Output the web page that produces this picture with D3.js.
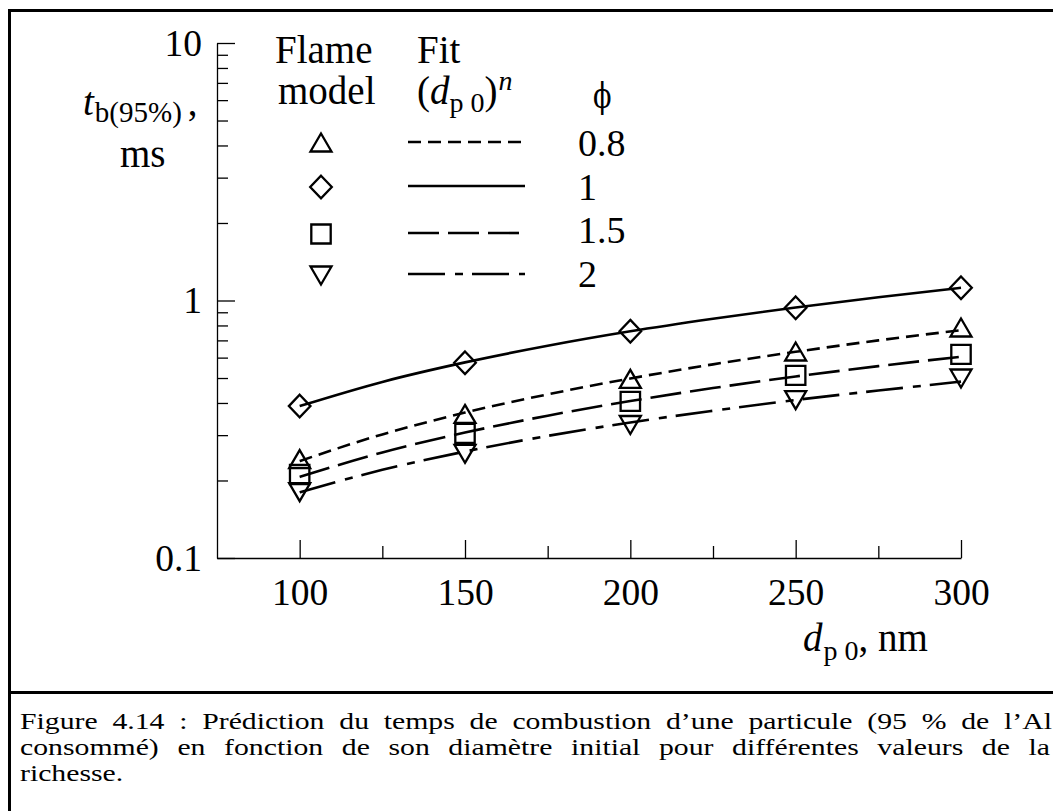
<!DOCTYPE html>
<html><head><meta charset="utf-8">
<script src="https://cdn.jsdelivr.net/npm/d3@7"></script>
<style>
body{margin:0;background:#fff;}
svg{display:block;}
text{font-family:"Liberation Serif","Times New Roman",serif;fill:#000;}
</style></head><body>
<svg id="chart" width="1053" height="811"></svg>
<script>
// ---------- data ----------
const diameters = [100, 150, 200, 250, 300];
const phiLabels = ["0.8", "1", "1.5", "2"];
const model08 = [0.241, 0.361, 0.494, 0.631, 0.782];
const model1  = [0.389, 0.573, 0.760, 0.937, 1.12];
const model15 = [0.211, 0.305, 0.406, 0.512, 0.618];
const model2  = [0.181, 0.255, 0.330, 0.412, 0.500];
const fitDiameters = [100, 125, 150, 175, 200, 225, 250, 275, 300];
const fit08 = [0.238, 0.302, 0.367, 0.432, 0.498, 0.565, 0.632, 0.700, 0.767];
const fit1  = [0.389, 0.483, 0.575, 0.667, 0.759, 0.849, 0.940, 1.030, 1.120];
const fit15 = [0.2065, 0.257, 0.307, 0.357, 0.407, 0.457, 0.507, 0.556, 0.605];
const fit2  = [0.180, 0.220, 0.259, 0.298, 0.336, 0.373, 0.411, 0.447, 0.484];
const xTicks = [100, 150, 200, 250, 300];
const xMinorTicks = [125, 175, 225, 275];
const yTicks = [0.1, 1, 10];
const yTickLabels = ["0.1", "1", "10"];
const yMinorTicks = [0.2, 0.3, 0.4, 0.5, 0.6, 0.7, 0.8, 0.9, 2, 3, 4, 5, 6, 7, 8, 9];
const captionLines = [
  "Figure 4.14 : Prédiction du temps de combustion d’une particule (95 % de l’Al",
  "consommé) en fonction de son diamètre initial pour différentes valeurs de la",
  "richesse."
];

// ---------- setup ----------
const svg = d3.select("#chart");
const x = d3.scaleLinear().domain([75, 300]).range([217, 961]);
const y = d3.scaleLog().domain([0.1, 10]).range([558, 43]);

// frame
svg.append("line").attr("x1", 8).attr("x2", 1053).attr("y1", 10.5).attr("y2", 10.5)
  .attr("stroke", "#000").attr("stroke-width", 3);
svg.append("line").attr("x1", 9.5).attr("x2", 9.5).attr("y1", 9).attr("y2", 811)
  .attr("stroke", "#000").attr("stroke-width", 3);
svg.append("line").attr("x1", 8).attr("x2", 1053).attr("y1", 692.5).attr("y2", 692.5)
  .attr("stroke", "#000").attr("stroke-width", 3);

// ---------- axes ----------
const axFont = 37.5;
const gx = svg.append("g").attr("transform", "translate(0,558)")
  .call(d3.axisBottom(x).tickValues(xTicks).tickSize(-18).tickSizeOuter(0).tickPadding(20).tickFormat(d3.format("d")));
const gxm = svg.append("g").attr("transform", "translate(0,558)")
  .call(d3.axisBottom(x).tickValues(xMinorTicks).tickSize(-12).tickSizeOuter(0).tickFormat(""));
gxm.select(".domain").remove();
const gy = svg.append("g").attr("transform", "translate(217,0)")
  .call(d3.axisLeft(y).tickValues(yTicks).tickSize(-18).tickSizeOuter(0).tickPadding(15)
    .tickFormat((d, i) => yTickLabels[i]));
const gym = svg.append("g").attr("transform", "translate(217,0)")
  .call(d3.axisLeft(y).tickValues(yMinorTicks).tickSize(-11).tickSizeOuter(0).tickFormat(""));
gym.select(".domain").remove();
svg.selectAll(".domain, .tick line").attr("stroke", "#000").attr("stroke-width", 1.3);
[gx, gy].forEach(g => g.selectAll("text")
  .attr("font-size", axFont).attr("fill", "#000"));

// ---------- series ----------
const series = [
  {model: model08, fit: fit08, sym: "up",      dash: "13,7"},
  {model: model1,  fit: fit1,  sym: "diamond", dash: null},
  {model: model15, fit: fit15, sym: "square",  dash: "31,9"},
  {model: model2,  fit: fit2,  sym: "down",    dash: "37,10,8,9"}
];
function symPath(t) {
  if (t === "up") return "M0,-9.5L10.5,8.5L-10.5,8.5Z";
  if (t === "down") return "M0,9.5L10.5,-8.5L-10.5,-8.5Z";
  if (t === "diamond") return "M0,-11.3L10.8,0L0,11.3L-10.8,0Z";
  return "M-9.7,-9.5H9.7V9.5H-9.7Z";
}
const line = d3.line().x(d => x(d[0])).y(d => y(d[1])).curve(d3.curveMonotoneX);
const plot = svg.append("g");
series.forEach(s => {
  const pts = fitDiameters.map((d, i) => [d, s.fit[i]]);
  plot.append("path").attr("d", line(pts)).attr("fill", "none")
    .attr("stroke", "#000").attr("stroke-width", 2.6)
    .attr("stroke-dasharray", s.dash);
});
series.forEach(s => {
  plot.selectAll(null).data(diameters.map((d, i) => [d, s.model[i]])).join("path")
    .attr("d", symPath(s.sym))
    .attr("transform", d => `translate(${x(d[0])},${y(d[1])})`)
    .attr("fill", "none").attr("stroke", "#000").attr("stroke-width", 2.3);
});

// ---------- legend ----------
const lf = 39;
const leg = svg.append("g");
leg.append("text").attr("x", 275).attr("y", 63).attr("font-size", lf).text("Flame");
leg.append("text").attr("x", 278).attr("y", 104).attr("font-size", lf).text("model");
leg.append("text").attr("x", 417).attr("y", 63).attr("font-size", lf).text("Fit");
const fh = leg.append("text").attr("x", 417).attr("y", 104).attr("font-size", lf);
fh.append("tspan").text("(");
fh.append("tspan").attr("font-style", "italic").text("d");
fh.append("tspan").attr("font-size", 28).attr("dy", 8).text("p\u00A00");
fh.append("tspan").attr("dy", -8).text(")");
fh.append("tspan").attr("font-size", 28).attr("font-style", "italic").attr("dy", -14).attr("dx", 1).text("n");
leg.append("text").attr("x", 593).attr("y", 108).attr("font-size", 32)
  .style("font-family", "'DejaVu Serif','Liberation Serif',serif")
  .attr("transform", "translate(593,108) scale(0.85,1.1) translate(-593,-108)")
  .text("\u03D5");
const legY = [143, 187, 234, 275];
const legLabelY = [156, 200, 243, 287];
series.forEach((s, i) => {
  leg.append("path").attr("d", symPath(s.sym)).attr("transform", `translate(321,${legY[i]})`)
    .attr("fill", "none").attr("stroke", "#000").attr("stroke-width", 2.3);
  leg.append("line").attr("x1", 408).attr("x2", 525).attr("y1", legY[i] - 1).attr("y2", legY[i] - 1)
    .attr("stroke", "#000").attr("stroke-width", 2.6).attr("stroke-dasharray", s.dash);
  leg.append("text").attr("x", 578).attr("y", legLabelY[i]).attr("font-size", 38).text(phiLabels[i]);
});

// ---------- axis titles ----------
const yt = svg.append("text").attr("x", 83).attr("y", 115).attr("font-size", lf);
yt.append("tspan").attr("font-style", "italic").text("t");
yt.append("tspan").attr("font-size", 29).attr("dy", 7).attr("dx", 1).text("b(95%)");
yt.append("tspan").attr("dy", -7).attr("dx", 6).text(",");
svg.append("text").attr("x", 120).attr("y", 167).attr("font-size", lf).text("ms");
const xt = svg.append("text").attr("x", 803).attr("y", 651).attr("font-size", lf);
xt.append("tspan").attr("font-style", "italic").text("d");
xt.append("tspan").attr("font-size", 28).attr("dy", 9).attr("dx", 1).text("p\u00A00");
xt.append("tspan").attr("dy", -9).text(", nm");

// ---------- caption ----------
const capFont = 24;
const capSX = 1.24;
const capBase = [729, 755, 781];
const capRight = [1052, 1050, null];
captionLines.forEach((ln, li) => {
  const words = ln.split(" ");
  const g = svg.append("g");
  const nodes = words.map(w => g.append("text").attr("font-size", capFont).text(w));
  const widths = nodes.map(n => n.node().getComputedTextLength() * capSX);
  let gap;
  if (capRight[li] !== null && words.length > 1) {
    const total = widths.reduce((a, b) => a + b, 0);
    gap = (capRight[li] - 20 - total) / (words.length - 1);
  } else {
    gap = capFont * 0.25 * capSX;
  }
  let cx = 20;
  nodes.forEach((n, i) => {
    n.attr("transform", `translate(${cx},${capBase[li]}) scale(${capSX},1)`);
    cx += widths[i] + gap;
  });
});
</script>
</body></html>
